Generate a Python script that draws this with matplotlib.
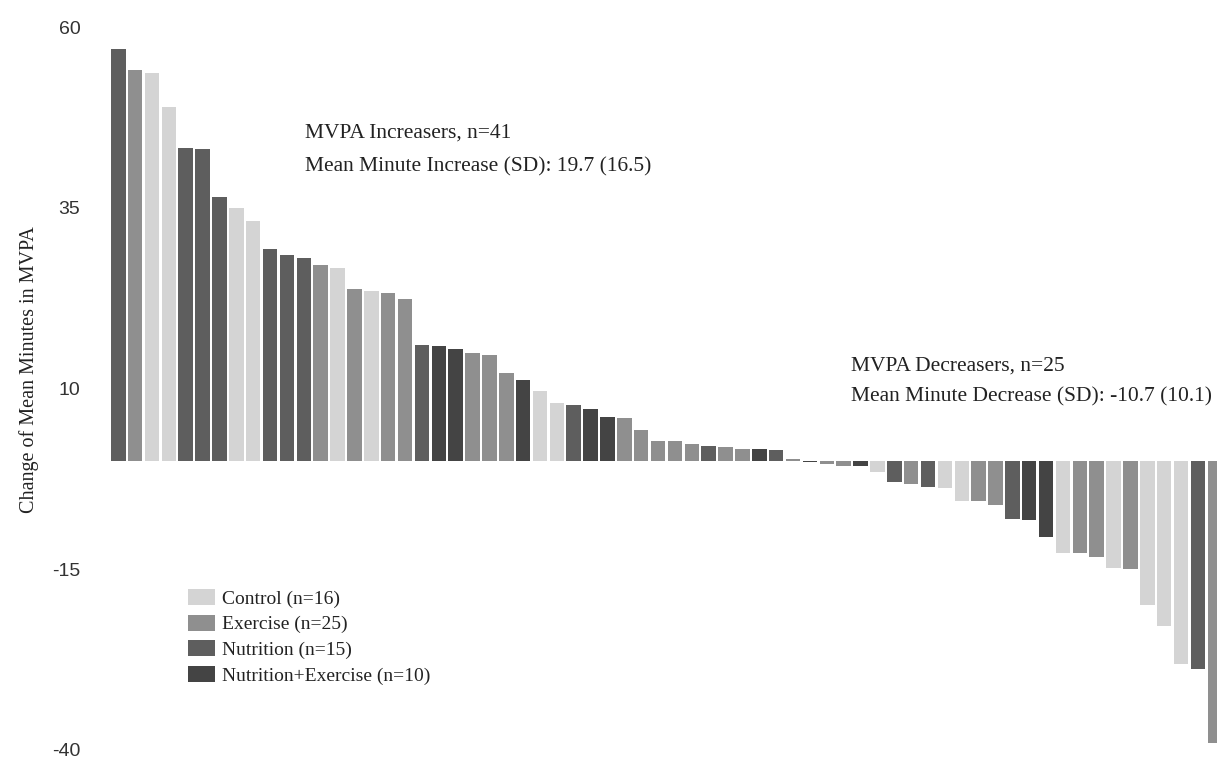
import numpy as np
import matplotlib
matplotlib.use("Agg")
import matplotlib.pyplot as plt

# change in mean MVPA minutes per participant, sorted
change = [56.9, 54.1, 53.7, 49.0, 43.3, 43.1, 36.5, 34.9, 33.2, 29.3,
          28.5, 28.1, 27.1, 26.6, 23.7, 23.5, 23.2, 22.4, 16.0, 15.9,
          15.4, 14.9, 14.6, 12.2, 11.2, 9.7, 8.0, 7.7, 7.1, 6.1,
          5.9, 4.2, 2.8, 2.8, 2.3, 2.1, 1.9, 1.7, 1.7, 1.5,
          0.2, -0.1, -0.5, -0.7, -0.7, -1.5, -3.0, -3.2, -3.6, -3.8,
          -5.5, -5.6, -6.1, -8.1, -8.2, -10.5, -12.7, -12.8, -13.3, -14.8,
          -14.9, -20.0, -22.8, -28.1, -28.8, -39.0]

group = ["N", "E", "C", "C", "N", "N", "N", "C", "C", "N",
         "N", "N", "E", "C", "E", "C", "E", "E", "N", "NE",
         "NE", "E", "E", "E", "NE", "C", "C", "N", "NE", "NE",
         "E", "E", "E", "E", "E", "N", "E", "E", "NE", "N",
         "E", "NE", "E", "E", "NE", "C", "N", "E", "N", "C",
         "C", "E", "E", "N", "NE", "NE", "C", "E", "E", "C",
         "E", "C", "C", "C", "N", "E"]

groups = ["C", "E", "N", "NE"]
group_labels = ["Control (n=16)", "Exercise (n=25)", "Nutrition (n=15)",
                "Nutrition+Exercise (n=10)"]
group_colors = ["#d4d4d4", "#8f8f8f", "#5e5e5e", "#444444"]

yticks = [60, 35, 10, -15, -40]

serif = "Liberation Serif"
sans = "Liberation Sans"

fig = plt.figure(figsize=(12.17, 7.62), dpi=100)
ax = fig.add_axes([111 / 1217, 12 / 762, 1 - 111 / 1217, 723 / 762])

x = np.arange(len(change))
vals = np.array(change)
grp = np.array(group)
for g, lab, col in zip(groups, group_labels, group_colors):
    m = grp == g
    ax.bar(x[m], vals[m], width=0.86, color=col, label=lab, linewidth=0)

ax.set_xlim(-0.43, -0.43 + 1106 / 16.87)
ax.set_ylim(-40, 60)
ax.set_xticks([])
ax.set_yticks(yticks)
ax.set_yticklabels([str(t) for t in yticks], fontfamily=sans, fontsize=14,
                   color="#333333")
ax.tick_params(axis="y", length=0, pad=22)
for s in ax.spines.values():
    s.set_visible(False)

fig.text(29 / 1217, (762 - 370) / 762, "Change of Mean Minutes in MVPA",
         rotation=90, ha="center", va="center", family=serif, fontsize=14.5,
         color="#222222")

tkw = dict(transform=ax.transAxes, family=serif, fontsize=15.5,
           color="#222222", va="center", ha="left")
ax.text(0.175, 0.853, "MVPA Increasers, n=41", **tkw)
ax.text(0.175, 0.807, "Mean Minute Increase (SD): 19.7 (16.5)", **tkw)
ax.text(0.669, 0.531, "MVPA Decreasers, n=25", **tkw)
ax.text(0.669, 0.488, "Mean Minute Decrease (SD): -10.7 (10.1)", **tkw)

leg = fig.legend(loc="upper left", bbox_to_anchor=(188 / 1217, (762 - 589) / 762),
                 frameon=False, borderpad=0, borderaxespad=0,
                 handlelength=1.4, handleheight=0.9, handletextpad=0.35,
                 labelspacing=0.35, prop={"family": serif, "size": 14})
for t in leg.get_texts():
    t.set_color("#222222")

fig.savefig("out.png", dpi=100)
